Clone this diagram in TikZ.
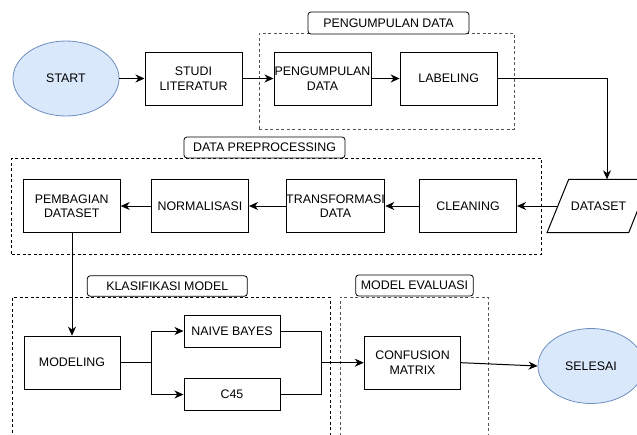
\documentclass[tikz,border=0pt]{standalone}
\usepackage{fontspec}
\setmainfont{Liberation Sans}
\usetikzlibrary{arrows.meta,shapes.geometric}
\definecolor{ellfill}{HTML}{DAE8FC}
\definecolor{elldraw}{HTML}{6C8EBF}
\definecolor{grpgray}{HTML}{555555}
\tikzset{
  box/.style={draw=black, line width=1pt, fill=white, minimum width=97pt, minimum height=53pt, align=center, inner sep=0pt, font=\fontsize{12.4}{14.5}\selectfont},
  smallbox/.style={box, minimum height=32pt},
  term/.style={ellipse, draw=elldraw, fill=ellfill, line width=0.8pt, minimum width=106pt, minimum height=75pt, inner sep=0pt, font=\fontsize{12.4}{14.5}\selectfont},
  grp/.style={draw=#1, line width=0.9pt, dash pattern=on 3pt off 2.5pt, inner sep=0pt},
  grplabel/.style={draw=black, line width=0.8pt, rounded corners=3pt, fill=white, inner sep=0pt, font=\fontsize{12.4}{14.5}\selectfont},
  arr/.style={line width=1pt, -{Stealth[length=9pt,width=8pt,inset=2.8pt]}},
  ln/.style={line width=1pt}
}
\begin{document}
\begin{tikzpicture}[x=1pt,y=-1pt]
\path[use as bounding box, clip] (0,0) rectangle (637,434);
\fill[white] (0,0) rectangle (637,434);
% groups
\node[grp=grpgray, minimum width=255pt, minimum height=96pt] (g1) at (386.5,81) {};
\node[grp=black, minimum width=530pt, minimum height=96pt] (g2) at (276.7,206.3) {};
\node[grp=black, minimum width=317.7pt, minimum height=172.7pt] (g3) at (171.2,383.6) {};
\node[grp=grpgray, minimum width=148.3pt, minimum height=172.7pt] (g4) at (414.2,383.6) {};
% group labels
\node[grplabel, minimum width=161pt, minimum height=22pt] (l1) at (388.5,23) {PENGUMPULAN DATA};
\node[grplabel, minimum width=161pt, minimum height=21pt] (l2) at (264.5,147.5) {DATA PREPROCESSING};
\node[grplabel, minimum width=160pt, minimum height=20.5pt] (l3) at (167.3,286) {KLASIFIKASI MODEL};
\node[grplabel, minimum width=117.6pt, minimum height=21pt] (l4) at (414.5,285.5) {MODEL EVALUASI};
% nodes
\node[term] (start) at (66,78.5) {START};
\node[box] (studi) at (193.5,78.5) {STUDI\\LITERATUR};
\node[box] (kumpul) at (322.5,78.5) {PENGUMPULAN\\DATA};
\node[box] (label) at (448.7,78.5) {LABELING};
\node[box, draw=none, fill=none, minimum width=81.7pt] (dataset) at (598.5,206) {DATASET};
\draw[line width=1pt] (547,232.7) -- (568.7,179.3) -- (650,179.3) -- (628.7,232.7) -- cycle;
\node[box] (clean) at (468,206) {CLEANING};
\node[box] (trans) at (335.5,206) {TRANSFORMASI\\DATA};
\node[box] (norm) at (200,206) {NORMALISASI};
\node[box] (bagi) at (71.7,206) {PEMBAGIAN\\DATASET};
\node[box, minimum width=96pt] (model) at (72,362.7) {MODELING};
\node[smallbox, minimum width=96pt] (nb) at (232,331) {NAIVE BAYES};
\node[smallbox, minimum width=96pt] (c45) at (232,394.5) {C45};
\node[box, minimum width=96.4pt] (cm) at (412.5,362.7) {CONFUSION\\MATRIX};
\node[term] (selesai) at (591,366) {SELESAI};
% helper coordinates
\coordinate (dsin) at (607,179.3);
\coordinate (split) at (151.7,362.7);
\coordinate (merge) at (321.7,362.7);
% connectors
\draw[arr] (start.east) -- (studi.west);
\draw[arr] (studi.east) -- (kumpul.west);
\draw[arr] (kumpul.east) -- (label.west);
\draw[arr] (label.east) -| (dsin);
\draw[arr] (dataset.west) -- (clean.east);
\draw[arr] (clean.west) -- (trans.east);
\draw[arr] (trans.west) -- (norm.east);
\draw[arr] (norm.west) -- (bagi.east);
\draw[arr] (bagi.south -| model.north) -- (model.north);
\draw[ln] (model.east) -- (split);
\draw[arr] (split) |- (nb.west);
\draw[arr] (split) |- (c45.west);
\draw[ln] (nb.east) -| (merge);
\draw[ln] (c45.east) -| (merge);
\draw[arr] (merge) -- (cm.west);
\draw[arr] (cm.east) -- (selesai.west);
\end{tikzpicture}
\end{document}
